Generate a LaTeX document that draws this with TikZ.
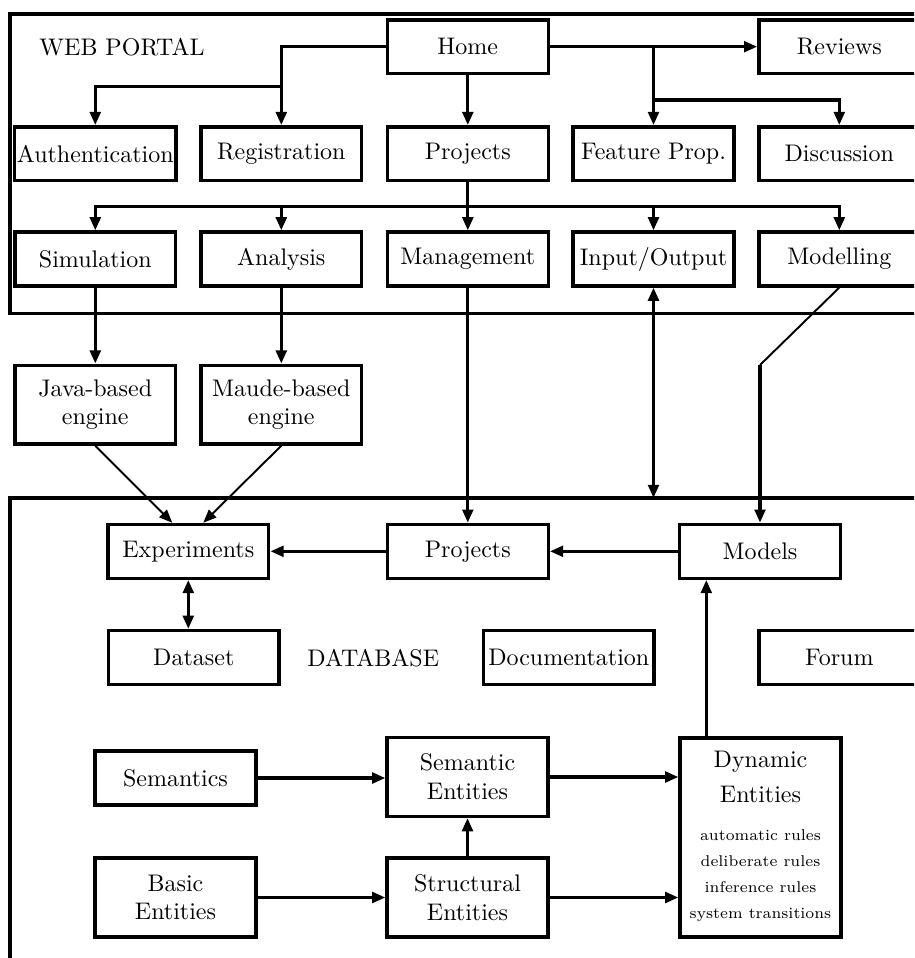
\documentclass[tikz,border=0pt]{standalone}
\usetikzlibrary{arrows.meta,calc}
\begin{document}
\begin{tikzpicture}[x=0.41667pt,y=-0.41667pt,
  box/.style={draw,line width=1.4pt,minimum width=67pt,minimum height=22.4pt,inner xsep=1pt,inner ysep=2pt,align=center},
  tall/.style={box,minimum height=32.8pt},
  conn/.style={line width=1.4pt},
  arr/.style={conn,-{Triangle[length=5.5pt,width=4.4pt]}},
  darr/.style={conn,{Triangle[length=5.5pt,width=4.4pt]}-{Triangle[length=5.5pt,width=4.4pt]}},
  diag/.style={line width=0.8pt},
  diagarr/.style={line width=0.8pt,-{Triangle[length=5.5pt,width=4.4pt]}},
  frame/.style={line width=1.4pt},
  small/.style={}]
\useasboundingbox (0,0) rectangle (914,958);
\clip (0,0) rectangle (914,958);

% frames
\draw[frame] (10,14) rectangle (945,313.5);
\draw[frame] (10,498) rectangle (945,1000);
\coordinate (dbtop) at (10,498);

% labels
\node (wplabel) at (122,46.7) {WEB PORTAL};
\node (dblabel) at (373.3,658.3) {DATABASE};

% web portal
\node[box] (home) at (467.8,46.7) {Home};
\node[box] (reviews) at (839.3,46.7) {Reviews};
\node[box] (auth) at (95.3,153.7) {Authentication};
\node[box] (reg) at (281.3,153.7) {Registration};
\node[box] (proj) at (467.8,153.7) {Projects};
\node[box] (feat) at (653.5,153.7) {Feature Prop.};
\node[box] (disc) at (839.3,153.7) {Discussion};
\node[box] (sim) at (95.3,259) {Simulation};
\node[box] (ana) at (281.3,259) {Analysis};
\node[box] (mgmt) at (467.8,259) {Management};
\node[box] (io) at (653.5,259) {Input/Output};
\node[box] (modl) at (839.3,259) {Modelling};

% engines
\node[tall] (java) at (95.3,404.7) {Java-based\\engine};
\node[tall] (maude) at (281.3,404.7) {Maude-based\\engine};

% database
\node[box] (exp) at (188.3,551.3) {Experiments};
\node[box] (dbproj) at (467.8,551.3) {Projects};
\node[box] (models) at (760,551.3) {Models};
\node[box,minimum width=71pt] (data) at (193.8,657.5) {Dataset};
\node[box,minimum width=71pt] (doc) at (568.8,657.5) {Documentation};
\node[box] (forum) at (839.3,657.5) {Forum};
\node[box] (sem) at (175.5,778) {Semantics};
\node[tall] (sement) at (467.5,777) {Semantic\\Entities};
\node[tall] (basic) at (175.5,897.5) {Basic\\Entities};
\node[tall] (struct) at (467.5,897.5) {Structural\\Entities};
\node[box,minimum height=83pt] (dyn) at (760.5,837.5) {{\def\arraystretch{0.9}\def\sm{\fontsize{6.5}{8}\selectfont}\begin{tabular}{@{}c@{}}Dynamic\\[3.8pt]Entities\\[5.1pt]\sm automatic rules\\\sm deliberate rules\\\sm inference rules\\\sm system transitions\end{tabular}}};

% web portal connectors
\coordinate (j1) at (reg.north |- 0,86.7);
\draw[arr] (home.west) -| (reg.north);
\draw[arr] (j1) -| (auth.north);
\draw[arr] (home.east) -- (reviews.west);
\coordinate (j2) at (feat.north |- home.east);
\draw[arr] (j2) -- (feat.north);
\coordinate (j3) at (feat.north |- 0,100);
\draw[arr] (j3) -| (disc.north);
\draw[arr] (home.south) -- (proj.north);
\draw[arr] (proj.south) -- (mgmt.north);
\coordinate (bus) at (proj.south |- 0,206.7);
\draw[arr] (bus) -| (sim.north);
\draw[arr] (bus) -| (ana.north);
\draw[arr] (bus) -| (io.north);
\draw[arr] (bus) -| (modl.north);

% to engines / database
\draw[arr] (sim.south) -- (java.north);
\draw[arr] (ana.south) -- (maude.north);
\draw[arr] (mgmt.south) -- (dbproj.north);
\draw[darr] (io.south) -- (io.south |- dbtop);
\coordinate (mbend) at (models.north |- 0,365);
\draw[diag] (modl.south) -- (mbend);
\draw[arr] (mbend) -- (models.north);
\draw[diagarr] (java.south) -- ($(exp.north)+(-16,0)$);
\draw[diagarr] (maude.south) -- ($(exp.north)+(15,0)$);

% database connectors
\draw[arr] (dbproj.west) -- (exp.east);
\draw[arr] (models.west) -- (dbproj.east);
\draw[darr] (exp.south) -- (exp.south |- data.north);
\draw[arr] (sem.east) -- (sem.east -| sement.west);
\draw[arr] (sement.east) -- (sement.east -| dyn.west);
\draw[arr] (basic.east) -- (struct.west);
\draw[arr] (struct.east) -- (struct.east -| dyn.west);
\draw[arr] (struct.north) -- (sement.south);
\coordinate (dup) at ($(dyn.north)+(-54.2,0)$);
\draw[arr] (dup) -- (dup |- models.south);
\end{tikzpicture}
\end{document}
